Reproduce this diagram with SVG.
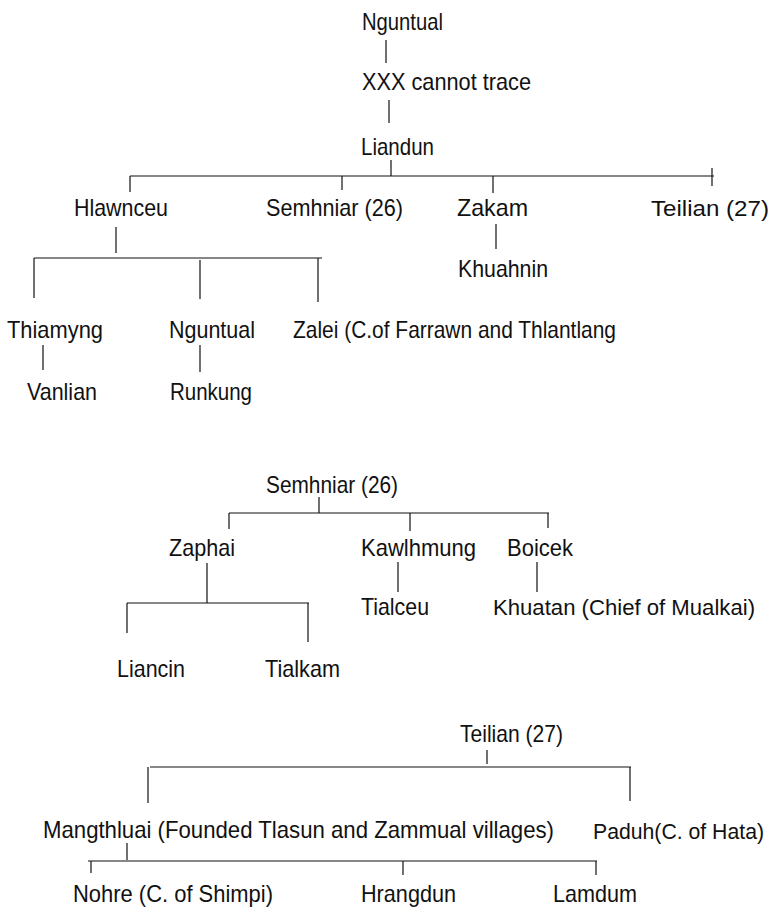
<svg xmlns="http://www.w3.org/2000/svg" width="773" height="907" viewBox="0 0 773 907">
<style>
text{font-family:"Liberation Sans",Arial,sans-serif;font-size:24px;fill:#111}
.c line{stroke:#111;stroke-width:1.2}
</style>
<rect width="773" height="907" fill="#fff"/>
<g class="c" id="connectors">
<line x1="386" y1="40" x2="386" y2="63"/>
<line x1="389" y1="100" x2="389" y2="123"/>
<line x1="391" y1="160" x2="391" y2="176"/>
<line x1="130" y1="176" x2="714" y2="176"/>
<line x1="130" y1="176" x2="130" y2="192"/>
<line x1="342" y1="176" x2="342" y2="190"/>
<line x1="493" y1="176" x2="493" y2="193"/>
<line x1="712" y1="168" x2="712" y2="186"/>
<line x1="116" y1="227" x2="116" y2="253"/>
<line x1="34" y1="258" x2="322" y2="258"/>
<line x1="34" y1="258" x2="34" y2="298"/>
<line x1="200" y1="260" x2="200" y2="299"/>
<line x1="318" y1="258" x2="318" y2="302"/>
<line x1="43" y1="345" x2="43" y2="370"/>
<line x1="200" y1="345" x2="200" y2="372"/>
<line x1="496" y1="224" x2="496" y2="249"/>
<line x1="319" y1="497" x2="319" y2="513"/>
<line x1="229" y1="513" x2="549" y2="513"/>
<line x1="229" y1="513" x2="229" y2="529"/>
<line x1="410" y1="513" x2="410" y2="531"/>
<line x1="548" y1="513" x2="548" y2="528"/>
<line x1="207" y1="563" x2="207" y2="603"/>
<line x1="127" y1="603" x2="309" y2="603"/>
<line x1="127" y1="603" x2="127" y2="633"/>
<line x1="308" y1="603" x2="308" y2="642"/>
<line x1="398" y1="562" x2="398" y2="592"/>
<line x1="537" y1="562" x2="537" y2="592"/>
<line x1="487" y1="750" x2="487" y2="764"/>
<line x1="150" y1="767" x2="631" y2="767"/>
<line x1="148" y1="767" x2="148" y2="803"/>
<line x1="630" y1="767" x2="630" y2="801"/>
<line x1="127" y1="843" x2="127" y2="860"/>
<line x1="88" y1="861" x2="597" y2="861"/>
<line x1="91" y1="861" x2="91" y2="873"/>
<line x1="403" y1="861" x2="403" y2="875"/>
<line x1="596" y1="861" x2="596" y2="875"/>
</g>
<g id="n_nguntual"><text x="362" y="30" textLength="81" lengthAdjust="spacingAndGlyphs">Nguntual</text></g>
<g id="n_xxx"><text x="362" y="90" textLength="169" lengthAdjust="spacingAndGlyphs">XXX cannot trace</text></g>
<g id="n_liandun"><text x="361" y="155" textLength="73" lengthAdjust="spacingAndGlyphs">Liandun</text></g>
<g id="n_hlawnceu"><text x="74" y="216" textLength="94" lengthAdjust="spacingAndGlyphs">Hlawnceu</text></g>
<g id="n_semhniar1"><text x="266" y="216" textLength="137" lengthAdjust="spacingAndGlyphs">Semhniar (26)</text></g>
<g id="n_zakam"><text x="457" y="216" textLength="71" lengthAdjust="spacingAndGlyphs">Zakam</text></g>
<g id="n_teilian1"><text x="651" y="216" style="font-size:22.5px" textLength="118" lengthAdjust="spacingAndGlyphs">Teilian (27)</text></g>
<g id="n_khuahnin"><text x="458" y="277" textLength="90" lengthAdjust="spacingAndGlyphs">Khuahnin</text></g>
<g id="n_thiamyng"><text x="7" y="338" textLength="96" lengthAdjust="spacingAndGlyphs">Thiamyng</text></g>
<g id="n_nguntual2"><text x="169" y="338" textLength="86" lengthAdjust="spacingAndGlyphs">Nguntual</text></g>
<g id="n_zalei"><text x="293" y="338" textLength="323" lengthAdjust="spacingAndGlyphs">Zalei (C.of Farrawn and Thlantlang</text></g>
<g id="n_vanlian"><text x="27" y="400" textLength="70" lengthAdjust="spacingAndGlyphs">Vanlian</text></g>
<g id="n_runkung"><text x="170" y="400" textLength="82" lengthAdjust="spacingAndGlyphs">Runkung</text></g>
<g id="n_semhniar2"><text x="266" y="493" textLength="132" lengthAdjust="spacingAndGlyphs">Semhniar (26)</text></g>
<g id="n_zaphai"><text x="169" y="556" textLength="66" lengthAdjust="spacingAndGlyphs">Zaphai</text></g>
<g id="n_kawlhmung"><text x="361" y="556" textLength="115" lengthAdjust="spacingAndGlyphs">Kawlhmung</text></g>
<g id="n_boicek"><text x="507" y="556" textLength="66" lengthAdjust="spacingAndGlyphs">Boicek</text></g>
<g id="n_tialceu"><text x="361" y="615" textLength="68" lengthAdjust="spacingAndGlyphs">Tialceu</text></g>
<g id="n_khuatan"><text x="493" y="615" style="font-size:22.5px" textLength="262" lengthAdjust="spacingAndGlyphs">Khuatan (Chief of Mualkai)</text></g>
<g id="n_liancin"><text x="117" y="677" textLength="68" lengthAdjust="spacingAndGlyphs">Liancin</text></g>
<g id="n_tialkam"><text x="265" y="677" textLength="75" lengthAdjust="spacingAndGlyphs">Tialkam</text></g>
<g id="n_teilian2"><text x="460" y="742" textLength="103" lengthAdjust="spacingAndGlyphs">Teilian (27)</text></g>
<g id="n_mangthluai"><text x="43" y="838" textLength="511" lengthAdjust="spacingAndGlyphs">Mangthluai (Founded Tlasun and Zammual villages)</text></g>
<g id="n_paduh"><text x="593" y="839" style="font-size:22px" textLength="171" lengthAdjust="spacingAndGlyphs">Paduh(C. of Hata)</text></g>
<g id="n_nohre"><text x="73" y="902" textLength="200" lengthAdjust="spacingAndGlyphs">Nohre (C. of Shimpi)</text></g>
<g id="n_hrangdun"><text x="361" y="902" textLength="95" lengthAdjust="spacingAndGlyphs">Hrangdun</text></g>
<g id="n_lamdum"><text x="553" y="902" textLength="84" lengthAdjust="spacingAndGlyphs">Lamdum</text></g>
</svg>
